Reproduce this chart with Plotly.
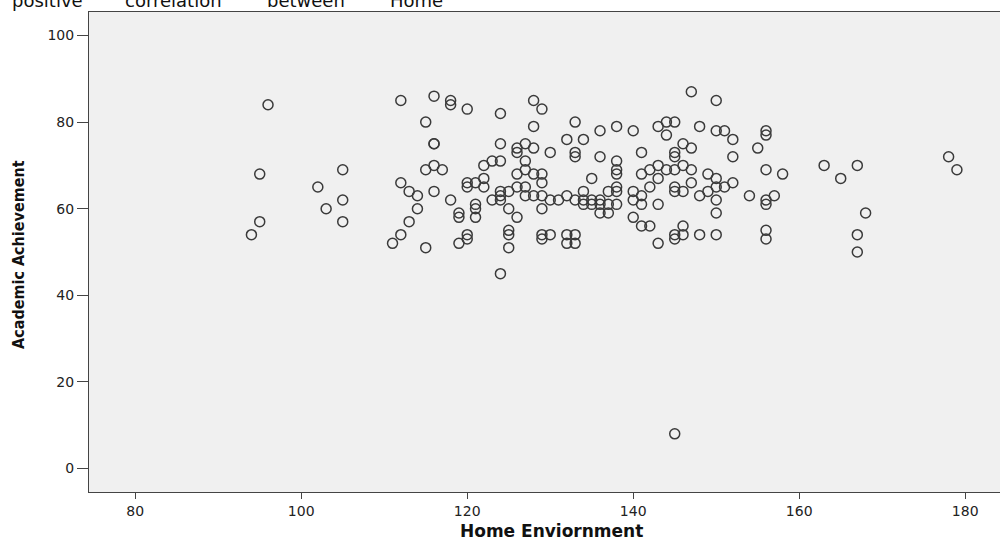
import plotly.graph_objects as go

# Home Environment score (x) and Academic Achievement (y)
home_env = [
    96, 112, 116, 115, 116, 116, 115, 116, 117, 95,
    105, 112, 102, 113, 114, 116, 105, 103, 114, 95,
    105, 113, 94, 112, 111, 115,
    118, 118, 120, 124, 128, 129, 133, 128, 124, 127,
    126, 126, 128, 132, 130, 133, 133, 122, 123, 124,
    127, 127, 126, 128, 129, 122, 120, 121, 120, 122,
    126, 127, 129, 124, 124, 125, 127, 128, 129, 123,
    124, 130, 131, 132, 133, 118, 121, 121, 119, 119,
    121, 125, 126, 129, 120, 120, 125, 125, 129, 130,
    132, 133, 119, 125, 129, 132, 133, 124,
    147, 150, 136, 138, 140, 143, 144, 145, 144, 148,
    150, 134, 146, 147, 136, 141, 145, 145, 138, 138,
    138, 141, 142, 143, 144, 145, 146, 147, 135, 143,
    149, 150, 147, 134, 137, 138, 138, 140, 142, 145,
    145, 146, 148, 149, 150, 150, 134, 135, 136, 134,
    135, 136, 137, 138, 140, 141, 141, 143, 136, 137,
    140, 141, 142, 146, 145, 146, 148, 150, 143, 145,
    145,
    151, 156, 156, 152, 155, 152, 163, 167, 156, 158,
    165, 152, 151, 154, 156, 156, 157, 150, 168, 156,
    156, 167, 167, 178, 179,
]
academic = [
    84, 85, 86, 80, 75, 75, 69, 70, 69, 68,
    69, 66, 65, 64, 63, 64, 62, 60, 60, 57,
    57, 57, 54, 54, 52, 51,
    85, 84, 83, 82, 85, 83, 80, 79, 75, 75,
    74, 73, 74, 76, 73, 73, 72, 70, 71, 71,
    71, 69, 68, 68, 68, 67, 66, 66, 65, 65,
    65, 65, 66, 64, 63, 64, 63, 63, 63, 62,
    62, 62, 62, 63, 62, 62, 61, 60, 59, 58,
    58, 60, 58, 60, 54, 53, 55, 54, 54, 54,
    54, 54, 52, 51, 53, 52, 52, 45,
    87, 85, 78, 79, 78, 79, 80, 80, 77, 79,
    78, 76, 75, 74, 72, 73, 73, 72, 71, 69,
    68, 68, 69, 70, 69, 69, 70, 69, 67, 67,
    68, 67, 66, 64, 64, 65, 64, 64, 65, 65,
    64, 64, 63, 64, 65, 62, 62, 62, 62, 61,
    61, 61, 61, 61, 62, 63, 61, 61, 59, 59,
    58, 56, 56, 56, 54, 54, 54, 54, 52, 53,
    8,
    78, 78, 77, 76, 74, 72, 70, 70, 69, 68,
    67, 66, 65, 63, 62, 61, 63, 59, 59, 55,
    53, 54, 50, 72, 69,
]
assert len(home_env) == len(academic)

x_ticks = [80, 100, 120, 140, 160, 180]
y_ticks = [0, 20, 40, 60, 80, 100]
top_words = ["positive", "correlation", "between", "Home"]
top_word_x = [10, 123, 265, 388]  # left pixel of each word

W, H = 1000, 541
ML, MR, MT, MB = 89, 0, 12, 49
PW, PH = W - ML - MR, H - MT - MB

fig = go.Figure()
fig.add_trace(go.Scatter(
    x=home_env, y=academic, mode="markers",
    marker=dict(symbol="circle-open", size=10, color="#3a3a3a",
                line=dict(width=1.5, color="#3a3a3a")),
    showlegend=False, hoverinfo="x+y",
))

tickfont = dict(family="DejaVu Sans, Arial, sans-serif", size=14, color="#222222")

fig.update_xaxes(
    range=[74.43, 184.19], tickvals=x_ticks, ticktext=[str(v) for v in x_ticks],
    showgrid=False, zeroline=False, showline=True, linecolor="#444444", linewidth=1,
    mirror=True, ticks="outside", ticklen=6, tickcolor="#444444", tickwidth=1,
    tickfont=tickfont,
)
fig.update_yaxes(
    range=[-5.43, 105.43], tickvals=y_ticks, ticktext=[str(v) for v in y_ticks],
    showgrid=False, zeroline=False, showline=True, linecolor="#444444", linewidth=1,
    mirror=False, ticks="outside", ticklen=11, tickcolor="#444444", tickwidth=1,
    tickfont=tickfont,
)

annotations = [
    dict(text="<b>Home Enviornment</b>", x=(551 - ML) / PW, y=(MT + PH - 531) / PH,
         xref="paper", yref="paper", showarrow=False, xanchor="center", yanchor="middle",
         font=dict(family="DejaVu Sans, Arial, sans-serif", size=17, color="#111111")),
    dict(text="<b>Academic Achievement</b>", x=(18 - ML) / PW, y=(MT + PH - 255) / PH,
         xref="paper", yref="paper", showarrow=False, xanchor="center", yanchor="middle",
         textangle=-90,
         font=dict(family="DejaVu Sans Condensed, Liberation Sans Narrow, Arial Narrow, sans-serif",
                   size=16, color="#111111")),
]
for word, px in zip(top_words, top_word_x):
    annotations.append(dict(
        text=word, x=(px - ML) / PW, y=(MT + PH - 0) / PH,
        xref="paper", yref="paper", showarrow=False, xanchor="left", yanchor="middle",
        font=dict(family="DejaVu Sans, Arial, sans-serif", size=18, color="#111111"),
    ))

fig.update_layout(
    width=W, height=H, margin=dict(l=ML, r=MR, t=MT, b=MB, autoexpand=False),
    paper_bgcolor="white", plot_bgcolor="#F0F0F0",
    annotations=annotations,
)

fig.write_html("out.html", include_plotlyjs=True, full_html=True,
               config={"displayModeBar": False})
